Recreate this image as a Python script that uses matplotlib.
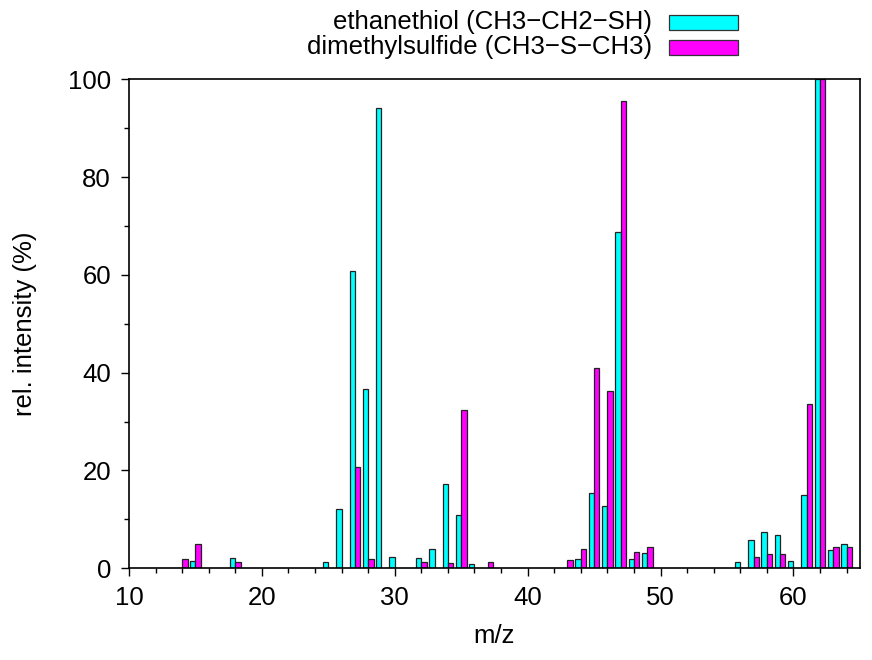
import numpy as np
import matplotlib.pyplot as plt
from matplotlib.patches import Rectangle
from matplotlib.ticker import MultipleLocator

plt.rcParams["font.family"] = ["Liberation Sans", "DejaVu Sans"]

# ethanethiol (CH3-CH2-SH)
eth_mz = [15, 18, 25, 26, 27, 28, 29, 30, 32, 33, 34, 35, 36,
          44, 45, 46, 47, 48, 49, 56, 57, 58, 59, 60, 61, 62, 63, 64]
eth_int = [1.4, 2.2, 1.3, 12.2, 60.7, 36.6, 94.2, 2.3, 2.1, 3.9, 17.2, 10.9, 0.9,
           1.9, 15.4, 12.7, 68.7, 1.9, 3.2, 1.2, 5.7, 7.5, 6.7, 1.4, 15.0, 100.0, 3.8, 5.0]

# dimethylsulfide (CH3-S-CH3)
dms_mz = [14, 15, 18, 27, 28, 32, 34, 35, 37,
          43, 44, 45, 46, 47, 48, 49, 57, 58, 59, 61, 62, 63, 64]
dms_int = [1.9, 5.0, 1.3, 20.8, 1.8, 1.2, 1.1, 32.3, 1.3,
           1.6, 4.0, 41.0, 36.2, 95.5, 3.4, 4.3, 2.3, 3.0, 3.0, 33.5, 100.0, 4.4, 4.4]

labels = ["ethanethiol (CH3\u2212CH2\u2212SH)", "dimethylsulfide (CH3\u2212S\u2212CH3)"]
colors = ["#00ffff", "#ff00ff"]
FS = 18.5

fig = plt.figure(figsize=(8.72, 6.6), dpi=100)
ax = fig.add_axes([0.148, 0.139, 0.838, 0.741])

w = 0.4
ax.bar(np.array(eth_mz) - w / 2, eth_int, w, color=colors[0],
       edgecolor="#222222", linewidth=0.9)
ax.bar(np.array(dms_mz) + w / 2, dms_int, w, color=colors[1],
       edgecolor="#222222", linewidth=0.9)

ax.set_xlim(10, 65)
ax.set_ylim(0, 100)
ax.xaxis.set_major_locator(MultipleLocator(10))
ax.xaxis.set_minor_locator(MultipleLocator(2))
ax.yaxis.set_major_locator(MultipleLocator(20))
ax.yaxis.set_minor_locator(MultipleLocator(10))
ax.tick_params(which="major", direction="out", length=6, width=1,
               labelsize=FS, pad=7, top=False, right=False)
ax.tick_params(which="minor", direction="out", length=3.5, width=1,
               top=False, right=False)
for s in ax.spines.values():
    s.set_linewidth(1.2)

ax.set_xlabel("m/z", fontsize=FS, labelpad=10)
ax.set_ylabel("rel. intensity (%)", fontsize=FS, labelpad=22)

# legend, gnuplot style: right-aligned text with swatch on the right
W, H = 872, 660
for i, (lab, col) in enumerate(zip(labels, colors)):
    yc = 22 + 25 * i
    fig.text(652 / W, 1 - yc / H, lab, ha="right", va="center", fontsize=FS)
    fig.add_artist(Rectangle((669 / W, 1 - (yc + 7.5) / H), 69 / W, 15 / H,
                             transform=fig.transFigure, facecolor=col,
                             edgecolor="#333333", linewidth=0.9))

fig.savefig("out.png", dpi=100)
